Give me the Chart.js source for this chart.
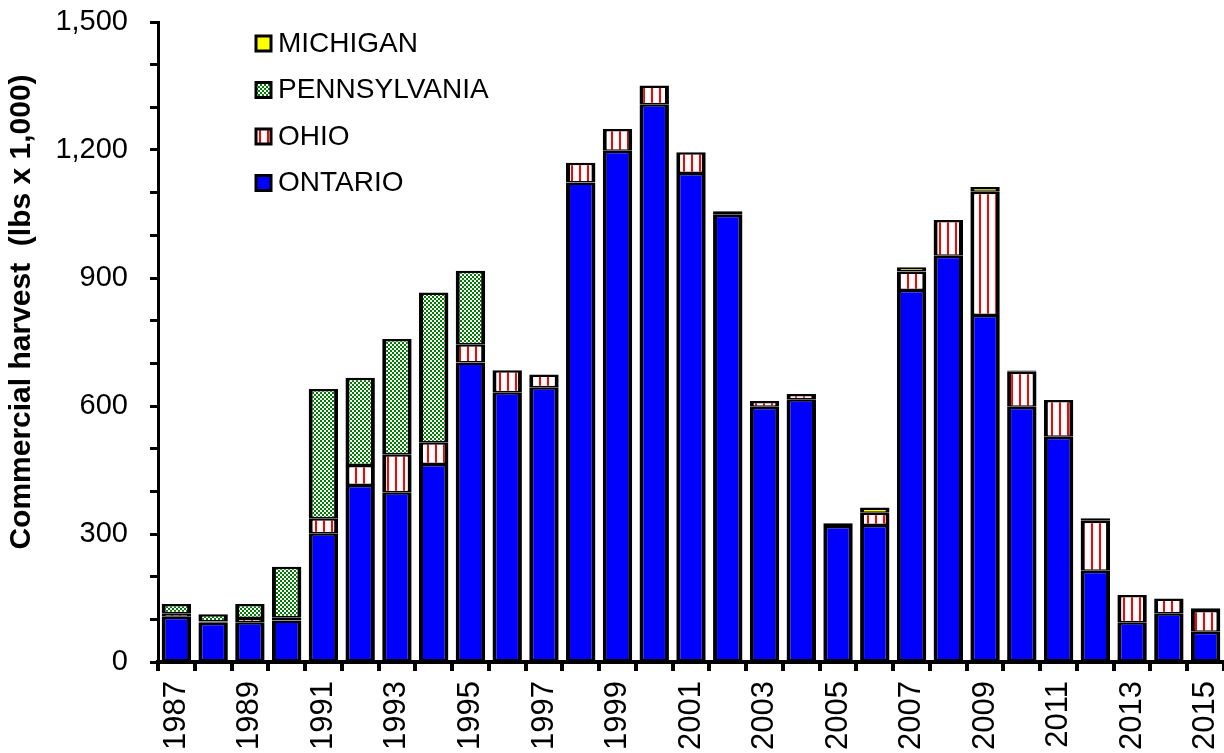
<!DOCTYPE html>
<html>
<head>
<meta charset="utf-8">
<script src="https://cdn.jsdelivr.net/npm/chart.js@4.4.1/dist/chart.umd.min.js"></script>
<style>
  html, body { margin: 0; padding: 0; background: #fff; }
  canvas { display: block; }
</style>
</head>
<body>
<canvas id="harvestChart" width="1224" height="753"></canvas>
<script>
var years = ['1987', '1988', '1989', '1990', '1991', '1992', '1993', '1994', '1995', '1996',
             '1997', '1998', '1999', '2000', '2001', '2002', '2003', '2004', '2005', '2006',
             '2007', '2008', '2009', '2010', '2011', '2012', '2013', '2014', '2015'];

// commercial harvest, lbs x 1,000
var ontario = [106, 92, 93, 97, 302, 415, 398, 464, 702, 632,
               644, 1124, 1198, 1307, 1146, 1048, 598, 616, 319, 321,
               872, 952, 813, 598, 528, 214, 93, 114, 71];
var ohio = [8, 3, 10, 8, 35, 47, 89, 51, 43, 52,
            30, 46, 51, 44, 49, 7, 14, 12, 5, 29,
            43, 84, 289, 82, 86, 117, 64, 35, 51];
var pennsylvania = [22, 17, 33, 118, 303, 204, 270, 351, 172, 0,
                    0, 0, 0, 0, 0, 0, 0, 0, 0, 0,
                    0, 0, 0, 0, 0, 0, 0, 0, 0];
var michigan = [0, 0, 0, 0, 0, 0, 0, 0, 0, 0,
                0, 0, 0, 0, 0, 2, 0, 0, 2, 12,
                10, 0, 11, 3, 0, 6, 0, 0, 4];

var yTitle = 'Commercial harvest  (lbs x 1,000)';
var FONT = 'Arial, "Liberation Sans", sans-serif';

document.addEventListener("DOMContentLoaded", function () {

    // fill patterns like the old excel ones
    function stripes() {
        var c = document.createElement('canvas');
        c.width = 8; c.height = 8;
        var g = c.getContext('2d');
        g.fillStyle = '#FFFFFF';
        g.fillRect(0, 0, 8, 8);
        g.fillStyle = '#FF0000';
        g.fillRect(3, 0, 2, 8);
        return g.createPattern(c, 'repeat');
    }
    function checker() {
        var c = document.createElement('canvas');
        c.width = 4; c.height = 4;
        var g = c.getContext('2d');
        g.fillStyle = '#FFFFFF';
        g.fillRect(0, 0, 4, 4);
        g.fillStyle = '#008000';
        g.fillRect(0, 0, 2, 2);
        g.fillRect(2, 2, 2, 2);
        return g.createPattern(c, 'repeat');
    }

    // y title + legend drawn inside the plot
    var overlay = {
        id: 'overlay',
        afterDraw: function (chart) {
            var ctx = chart.ctx;
            ctx.save();
            ctx.fillStyle = '#000';
            ctx.font = 'bold 30px ' + FONT;
            ctx.textAlign = 'center';
            ctx.textBaseline = 'middle';
            ctx.translate(22, 312);
            ctx.rotate(-Math.PI / 2);
            ctx.fillText(yTitle, 0, 0);
            ctx.restore();

            var sets = chart.data.datasets.slice().reverse();
            ctx.save();
            ctx.font = '28px ' + FONT;
            ctx.textBaseline = 'middle';
            ctx.textAlign = 'left';
            sets.forEach(function (ds, i) {
                var cy = 43 + i * 46.5;
                ctx.fillStyle = ds.backgroundColor;
                ctx.fillRect(256, cy - 7, 15, 15);
                ctx.lineWidth = 3;
                ctx.strokeStyle = '#000';
                ctx.strokeRect(256, cy - 7, 15, 15);
                ctx.fillStyle = '#000';
                ctx.fillText(ds.label, 278, cy + 1);
            });
            ctx.restore();
        }
    };

    var ctx = document.getElementById('harvestChart').getContext('2d');
    var harvestChart = new Chart(ctx, {
        type: 'bar',
        data: {
            labels: years,
            datasets: [
                { label: 'ONTARIO', data: ontario, backgroundColor: '#0000FF' },
                { label: 'OHIO', data: ohio, backgroundColor: stripes() },
                { label: 'PENNSYLVANIA', data: pennsylvania, backgroundColor: checker() },
                { label: 'MICHIGAN', data: michigan, backgroundColor: '#FFFF00' }
            ]
        },
        options: {
            responsive: false,
            animation: false,
            datasets: {
                bar: {
                    borderColor: '#000',
                    borderWidth: { top: 2.5, bottom: 1.5, left: 4, right: 4 },
                    borderSkipped: false,
                    inflateAmount: 0,
                    barPercentage: 0.8,
                    categoryPercentage: 1
                }
            },
            layout: { padding: { left: 57, top: 22, right: 0, bottom: 0 } },
            plugins: {
                legend: { display: false },
                tooltip: { enabled: false }
            },
            scales: {
                x: {
                    stacked: true,
                    border: { color: '#000', width: 4 },
                    grid: {
                        drawOnChartArea: false,
                        color: '#000',
                        lineWidth: 4,
                        tickLength: 9
                    },
                    ticks: {
                        autoSkip: false,
                        minRotation: 90,
                        maxRotation: 90,
                        padding: 10,
                        color: '#000',
                        font: { family: FONT, size: 31 },
                        callback: function (v, i) { return i % 2 === 0 ? years[i] : ''; }
                    },
                    afterFit: function (scale) {
                        scale.height = 91;
                        scale.paddingLeft = 0;
                        scale.paddingRight = 0;
                    }
                },
                y: {
                    stacked: true,
                    min: 0,
                    max: 1500,
                    border: { color: '#000', width: 3 },
                    grid: {
                        drawOnChartArea: false,
                        color: '#000',
                        lineWidth: 3,
                        tickLength: 8
                    },
                    ticks: {
                        stepSize: 100,
                        autoSkip: false,
                        padding: 22,
                        color: '#000',
                        font: { family: FONT, size: 29 },
                        callback: function (v) { return v % 300 === 0 ? v.toLocaleString('en-US') : ''; }
                    },
                    afterFit: function (scale) {
                        scale.width = 101;
                        scale.paddingTop = 0;
                        scale.paddingBottom = 0;
                    }
                }
            }
        },
        plugins: [overlay]
    });

});
</script>
</body>
</html>
